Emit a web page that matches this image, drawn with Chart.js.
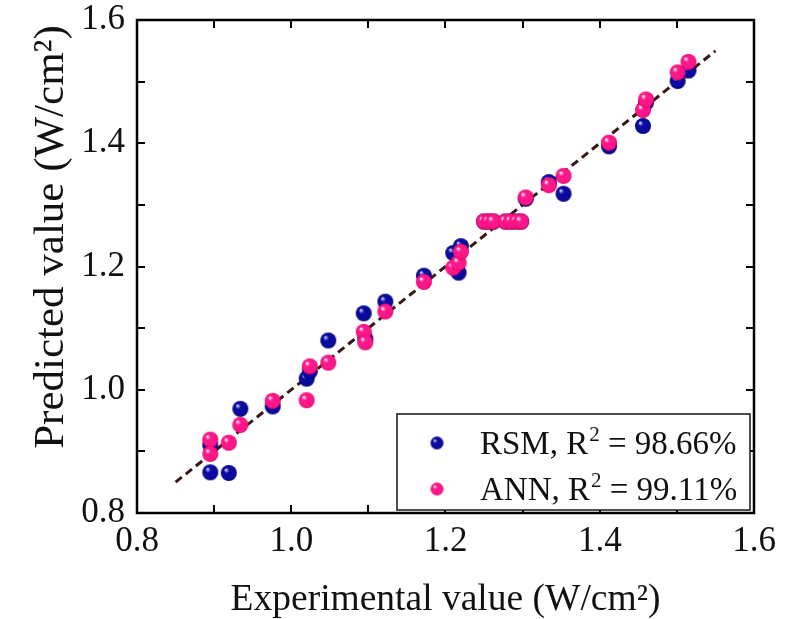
<!DOCTYPE html>
<html>
<head>
<meta charset="utf-8">
<script src="https://cdn.jsdelivr.net/npm/chart.js@4.4.1/dist/chart.umd.min.js"></script>
<style>
  html, body { margin: 0; padding: 0; background: #ffffff; }
  #wrap { width: 802px; height: 619px; }
</style>
</head>
<body>
<div id="wrap"><canvas id="c"></canvas></div>
<script>
// Experimental power density and the two model predictions (W/cm²)
const experimental = [0.895, 0.895, 0.919, 0.934, 0.976, 1.020, 1.024, 1.048, 1.094, 1.096,
                      1.122, 1.172, 1.210, 1.217, 1.220, 1.250, 1.256, 1.262, 1.278, 1.285,
                      1.292, 1.298, 1.304, 1.334, 1.353, 1.412, 1.456, 1.460, 1.501, 1.515];
const rsmPredicted = [0.910, 0.866, 0.865, 0.969, 0.973, 1.018, 1.030, 1.080, 1.124, 1.083,
                      1.143, 1.185, 1.222, 1.190, 1.233, 1.273, 1.273, 1.273, 1.273, 1.273,
                      1.273, 1.273, 1.310, 1.337, 1.318, 1.395, 1.428, 1.466, 1.501, 1.518];
const annPredicted = [0.919, 0.896, 0.914, 0.943, 0.982, 0.983, 1.038, 1.044, 1.094, 1.077,
                      1.127, 1.175, 1.198, 1.206, 1.224, 1.273, 1.273, 1.273, 1.273, 1.273,
                      1.273, 1.273, 1.312, 1.332, 1.347, 1.401, 1.454, 1.471, 1.515, 1.532];
const seriesLabels = ['RSM, R² = 98.66%', 'ANN, R² = 99.11%'];
// y = x reference line end points
const parityLine = [0.85, 1.55];
const tickValues = [0.8, 0.9, 1.0, 1.1, 1.2, 1.3, 1.4, 1.5, 1.6];
const tickLabels = ['0.8', '', '1.0', '', '1.2', '', '1.4', '', '1.6'];
const xTitle = 'Experimental value (W/cm²)';
const yTitle = 'Predicted value (W/cm²)';

const FONT = '"Liberation Serif", "Times New Roman", serif';

// shaded ball marker
function sphere(base, dark, light, r) {
  const s = Math.ceil(r * 2) + 2;
  const c = document.createElement('canvas');
  c.width = c.height = s;
  const g = c.getContext('2d');
  const cx = s / 2, cy = s / 2;
  const grad = g.createRadialGradient(cx - r * 0.38, cy - r * 0.42, r * 0.05, cx, cy, r);
  grad.addColorStop(0, light);
  grad.addColorStop(0.3, base);
  grad.addColorStop(0.85, base);
  grad.addColorStop(1, dark);
  g.fillStyle = grad;
  g.beginPath();
  g.arc(cx, cy, r, 0, Math.PI * 2);
  g.fill();
  return c;
}
const blueBall = sphere('#0a0aa0', '#04045a', '#d0d8ff', 8);
const pinkBall = sphere('#ff1689', '#d4005f', '#fff2f8', 8);
const blueBallSmall = sphere('#0a0aa0', '#04045a', '#d0d8ff', 6.5);
const pinkBallSmall = sphere('#ff1689', '#d4005f', '#fff2f8', 6.5);

const pairs = (ys) => experimental.map((x, i) => ({ x: x, y: ys[i] }));

// frame with inward ticks on all four sides, plus the rotated y title
const framePlugin = {
  id: 'frame',
  beforeDatasetsDraw(chart) {
    const { ctx, chartArea: a, scales } = chart;
    ctx.save();
    ctx.strokeStyle = '#000';
    ctx.lineWidth = 2;
    const tl = 8;
    ctx.beginPath();
    tickValues.forEach(v => {
      const px = Math.round(scales.x.getPixelForValue(v));
      const py = Math.round(scales.y.getPixelForValue(v));
      if (px > a.left + 2 && px < a.right - 2) {
        ctx.moveTo(px, a.bottom); ctx.lineTo(px, a.bottom - tl);
        ctx.moveTo(px, a.top); ctx.lineTo(px, a.top + tl);
      }
      if (py > a.top + 2 && py < a.bottom - 2) {
        ctx.moveTo(a.left, py); ctx.lineTo(a.left + tl, py);
        ctx.moveTo(a.right, py); ctx.lineTo(a.right - tl, py);
      }
    });
    ctx.stroke();
    ctx.lineWidth = 2.5;
    ctx.strokeRect(a.left, a.top, a.right - a.left, a.bottom - a.top);

    ctx.translate(63, 237);
    ctx.rotate(-Math.PI / 2);
    ctx.fillStyle = '#111';
    ctx.font = '43px ' + FONT;
    ctx.textAlign = 'center';
    ctx.textBaseline = 'alphabetic';
    ctx.fillText(yTitle, 0, 0);
    ctx.restore();
  }
};

// boxed legend in the lower right corner of the plot
const legendPlugin = {
  id: 'boxLegend',
  afterDraw(chart) {
    const { ctx, chartArea: a } = chart;
    const w = 353, h = 96;
    const left = a.right - 4 - w, top = a.bottom - 3 - h;
    ctx.save();
    ctx.fillStyle = '#fff';
    ctx.fillRect(left, top, w, h);
    ctx.strokeStyle = '#222';
    ctx.lineWidth = 1.6;
    ctx.strokeRect(left, top, w, h);
    const markers = [blueBallSmall, pinkBallSmall];
    seriesLabels.forEach((label, i) => {
      const cy = top + 29 + i * 46;
      const m = markers[i];
      ctx.drawImage(m, left + 40 - m.width / 2, cy - m.height / 2);
      const parts = label.split('²');
      ctx.fillStyle = '#111';
      ctx.textBaseline = 'alphabetic';
      let x = left + 83;
      const base = cy + 11;
      ctx.font = '33px ' + FONT;
      ctx.fillText(parts[0], x, base);
      x += ctx.measureText(parts[0]).width + 1;
      ctx.font = '21px ' + FONT;
      ctx.fillText('2', x, base - 13);
      x += ctx.measureText('2').width;
      ctx.font = '33px ' + FONT;
      ctx.fillText(parts[1], x, base);
    });
    ctx.restore();
  }
};

new Chart(document.getElementById('c'), {
  type: 'scatter',
  data: {
    datasets: [
      {
        label: seriesLabels[0],
        data: pairs(rsmPredicted),
        pointStyle: blueBall,
        order: 1
      },
      {
        label: seriesLabels[1],
        data: pairs(annPredicted),
        pointStyle: pinkBall,
        order: 0
      },
      {
        type: 'line',
        label: 'y = x',
        data: parityLine.map(v => ({ x: v, y: v })),
        borderColor: '#3a1717',
        borderWidth: 3,
        borderDash: [8, 5],
        pointRadius: 0,
        fill: false,
        order: 2
      }
    ]
  },
  options: {
    responsive: true,
    maintainAspectRatio: false,
    animation: false,
    events: [],
    layout: { padding: { left: 0, top: 20, right: 48, bottom: 0 } },
    plugins: {
      legend: { display: false },
      tooltip: { enabled: false }
    },
    scales: {
      x: {
        type: 'linear',
        min: 0.8, max: 1.6,
        afterBuildTicks(scale) { scale.ticks = tickValues.map(v => ({ value: v })); },
        afterFit(scale) { scale.height = 106; scale.paddingLeft = 0; scale.paddingRight = 0; },
        grid: { display: false, drawTicks: false },
        border: { display: false },
        ticks: {
          autoSkip: false,
          maxRotation: 0,
          padding: 8,
          color: '#111',
          font: { family: FONT, size: 35 },
          callback: (v, i) => tickLabels[i]
        },
        title: {
          display: true,
          text: xTitle,
          color: '#111',
          font: { family: FONT, size: 37.5, lineHeight: 1 },
          padding: { top: 12, bottom: 0 }
        }
      },
      y: {
        type: 'linear',
        min: 0.8, max: 1.6,
        afterBuildTicks(scale) { scale.ticks = tickValues.map(v => ({ value: v })); },
        afterFit(scale) { scale.width = 137; scale.paddingTop = 0; scale.paddingBottom = 0; },
        grid: { display: false, drawTicks: false },
        border: { display: false },
        ticks: {
          autoSkip: false,
          padding: 12,
          color: '#111',
          font: { family: FONT, size: 35 },
          callback: (v, i) => tickLabels[i]
        },
        title: { display: false }
      }
    }
  },
  plugins: [framePlugin, legendPlugin]
});
</script>
</body>
</html>
